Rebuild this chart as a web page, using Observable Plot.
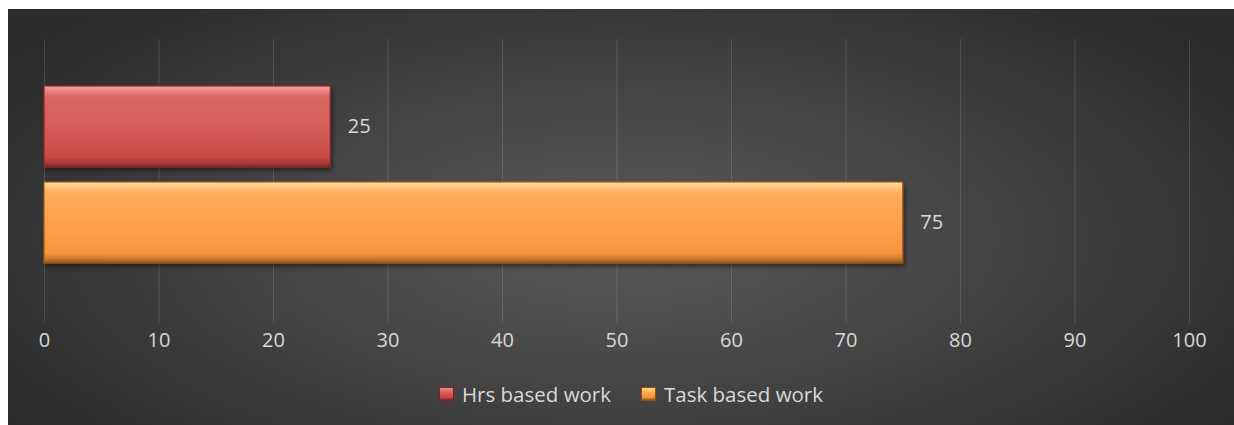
<!DOCTYPE html>
<html>
<head>
<meta charset="utf-8">
<script src="https://cdn.jsdelivr.net/npm/d3@7"></script>
<script src="https://cdn.jsdelivr.net/npm/@observablehq/plot@0.6"></script>
<style>
  html, body { margin: 0; padding: 0; background: #ffffff; }
  #chart {
    position: absolute; left: 8px; top: 9px; width: 1226px; height: 416px;
    background: radial-gradient(ellipse 60% 75% at 50% 55%, #595959 0%, #464646 45%, #2b2b2b 100%);
    font-family: "Open Sans", sans-serif;
  }
  #legend {
    position: absolute; left: 10px; top: 370px; width: 1226px; text-align: center;
    color: #d9d9d9; font-size: 20.5px; font-family: "Open Sans", sans-serif; white-space: nowrap;
  }
  .item { display: inline-flex; align-items: center; margin: 0 15px; }
  .sw { width: 15px; height: 14px; margin-right: 8px; box-sizing: border-box; }
</style>
</head>
<body>
<div id="chart"></div>
<script>
const categories = ["Hrs based work", "Task based work"];
const values = [25, 75];
const xTicks = [0, 10, 20, 30, 40, 50, 60, 70, 80, 90, 100];
const gradIds = ["gRed", "gOrange"];

const data = categories.map((c, i) => ({cat: c, v: values[i], fill: `url(#${gradIds[i]})`, stroke: i === 0 ? "#8a2a2a" : "#a35a1a"}));

const plot = Plot.plot({
  width: 1226,
  height: 360,
  marginTop: 30,
  marginBottom: 46,
  marginLeft: 36,
  marginRight: 45,
  style: {background: "transparent", fontFamily: "Open Sans, sans-serif", fontSize: "20px", color: "#d9d9d9", overflow: "visible"},
  x: {domain: [0, 100], ticks: xTicks, tickFormat: d => String(d), label: null},
  y: {domain: categories, range: [61, 270], padding: 0.155, axis: null},
  marks: [
    Plot.ruleX(xTicks, {stroke: "#ffffff", strokeOpacity: 0.13, strokeWidth: 1}),
    Plot.axisX({ticks: xTicks, tickSize: 0, tickPadding: 9, fill: "#d9d9d9", fontSize: 20, label: null}),
    Plot.barX(data, {x: "v", y: "cat", fill: "fill", stroke: "stroke", strokeWidth: 1.2}),
    Plot.text(data, {x: "v", y: "cat", text: d => String(d.v), textAnchor: "start", dx: 17, fill: "#d9d9d9", fontSize: 20})
  ]
});

// gradient defs for bevelled bars
const svg = d3.select(plot);
const defs = svg.insert("defs", ":first-child");
function grad(id, stops) {
  const g = defs.append("linearGradient").attr("id", id).attr("x1", 0).attr("y1", 0).attr("x2", 0).attr("y2", 1);
  stops.forEach(([o, c]) => g.append("stop").attr("offset", o).attr("stop-color", c));
}
grad("gRed", [["0%", "#f6a3a0"], ["8%", "#e47b78"], ["14%", "#d96663"], ["55%", "#d35c59"], ["88%", "#c84a47"], ["95%", "#a83a37"], ["100%", "#7e2424"]]);
grad("gOrange", [["0%", "#ffe2a0"], ["8%", "#ffbf74"], ["14%", "#ffad5e"], ["55%", "#ffa04a"], ["88%", "#f7953d"], ["95%", "#c9782c"], ["100%", "#8e5016"]]);
const f = defs.append("filter").attr("id", "shadow").attr("x", "-5%").attr("y", "-20%").attr("width", "110%").attr("height", "150%");
f.append("feDropShadow").attr("dx", 2).attr("dy", 3).attr("stdDeviation", 2.5).attr("flood-color", "#000").attr("flood-opacity", 0.45);
svg.selectAll("rect").attr("filter", "url(#shadow)");

const chart = document.getElementById("chart");
chart.appendChild(plot);

const legend = document.createElement("div");
legend.id = "legend";
const swatches = [
  "linear-gradient(#f08a87 0%, #d65f5c 35%, #c14441 80%, #7e2424 100%)",
  "linear-gradient(#ffd58a 0%, #ffaa55 35%, #f39236 80%, #8e5016 100%)"
];
categories.forEach((c, i) => {
  const it = document.createElement("span");
  it.className = "item";
  const sw = document.createElement("span");
  sw.className = "sw";
  sw.style.background = swatches[i];
  sw.style.border = "1px solid " + (i === 0 ? "#7a2222" : "#8e5016");
  const t = document.createElement("span");
  t.textContent = c;
  it.appendChild(sw); it.appendChild(t);
  legend.appendChild(it);
});
chart.appendChild(legend);
</script>
</body>
</html>
